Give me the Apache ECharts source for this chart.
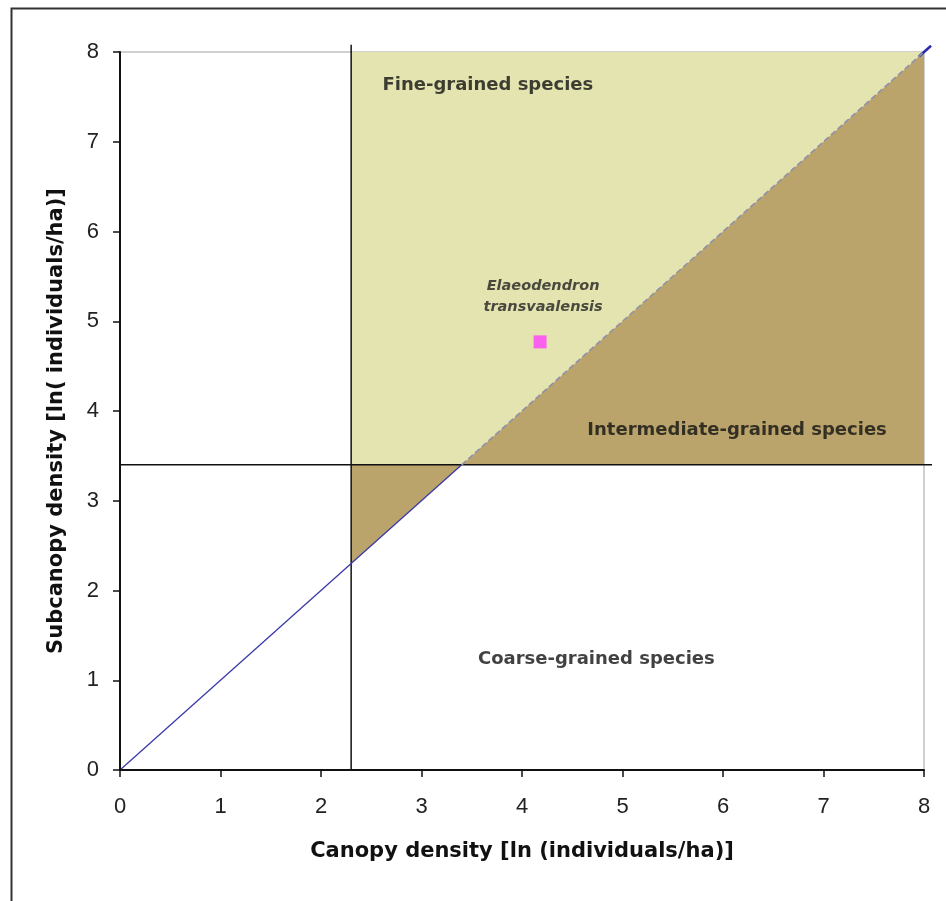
<!DOCTYPE html>
<html><head><meta charset="utf-8">
<script src="https://cdn.jsdelivr.net/npm/echarts@6/dist/echarts.min.js"></script>
<style>html,body{margin:0;padding:0;background:#fff}#c{width:946px;height:901px}</style>
</head><body><div id="c"></div>
<script>
var xTicks = [0,1,2,3,4,5,6,7,8];
var yTicks = [0,1,2,3,4,5,6,7,8];
var fineRegion = [[2.3,3.4],[2.3,8],[8,8],[3.4,3.4]];
var interRegionLow = [[2.3,2.3],[2.3,3.4],[3.4,3.4]];
var interRegionHigh = [[3.4,3.4],[8,8],[8,3.4]];
var diagonalSolid = [[0,0],[3.4,3.4]];
var diagonalDashed = [[3.4,3.4],[8,8]];
var diagonalTip = [[7.95,7.95],[8.07,8.07]];
var hLine = [[0,3.4],[8.08,3.4]];
var vLine = [[2.3,0],[2.3,8.08]];
var species = [[4.18,4.77]];
var regionLabels = [
  {name:'Fine-grained species', value:[3.66,7.63]},
  {name:'Intermediate-grained species', value:[6.14,3.79]},
  {name:'Coarse-grained species', value:[4.74,1.23]}
];
var speciesLabel = [{name:'Elaeodendron\ntransvaalensis', value:[4.21,5.27]}];

function poly(data, color){
  return {
    type:'custom', silent:true, z:1,
    renderItem:function(params, api){
      var pts = data.map(function(p){return api.coord(p);});
      return {type:'polygon', shape:{points:pts}, style:{fill:color, stroke:null}};
    },
    data:[0]
  };
}
function seg(data, z, style){
  return {
    type:'custom', silent:true, z:z, clip:false,
    renderItem:function(params, api){
      var a = api.coord(data[0]), b = api.coord(data[1]);
      return {type:'line', shape:{x1:a[0],y1:a[1],x2:b[0],y2:b[1]}, style:style};
    },
    data:[0]
  };
}

var chart = echarts.init(document.getElementById('c'));
chart.setOption({
  animation:false,
  backgroundColor:'#fff',
  grid:{left:120, right:22, top:52, bottom:131, show:true, borderColor:'#a0a0a0', borderWidth:1, backgroundColor:'transparent'},
  graphic:[{type:'rect', left:9, top:6, shape:{x:0,y:0,width:960,height:920}, style:{fill:null, stroke:'#333', lineWidth:2}, z:100}],
  xAxis:{
    type:'value', min:0, max:8, interval:1,
    name:'Canopy density [ln (individuals/ha)]', nameLocation:'middle', nameGap:71,
    nameTextStyle:{fontFamily:'DejaVu Sans', fontWeight:'bold', fontSize:21, color:'#111'},
    axisLine:{show:true, onZero:false, lineStyle:{color:'#111', width:2}},
    axisTick:{show:true, length:7, lineStyle:{color:'#111', width:1.5}},
    axisLabel:{margin:26, fontFamily:'Liberation Sans', fontSize:22, color:'#222', formatter:function(v){return xTicks.indexOf(v)>=0?String(v):'';}},
    splitLine:{show:false}, z:5
  },
  yAxis:{
    type:'value', min:0, max:8, interval:1,
    name:'Subcanopy density [ln( individuals/ha)]', nameLocation:'middle', nameGap:53,
    nameTextStyle:{fontFamily:'DejaVu Sans', fontWeight:'bold', fontSize:21, color:'#111', padding:[0,20,0,0]},
    axisLine:{show:true, onZero:false, lineStyle:{color:'#111', width:2}},
    axisTick:{show:true, length:7, lineStyle:{color:'#111', width:1.5}},
    axisLabel:{margin:21, fontFamily:'Liberation Sans', fontSize:22, color:'#222', formatter:function(v){return yTicks.indexOf(v)>=0?String(v):'';}},
    splitLine:{show:false}, z:5
  },
  series:[
    poly(fineRegion, '#e3e4b0'),
    poly(interRegionLow, '#baa46c'),
    poly(interRegionHigh, '#baa46c'),
    seg(hLine, 3, {stroke:'#111', lineWidth:1.5}),
    seg(vLine, 3, {stroke:'#111', lineWidth:1.5}),
    {type:'line', data:diagonalSolid, symbol:'none', silent:true, z:4, lineStyle:{color:'#3a3aa8', width:1.3}},
    {type:'line', data:diagonalDashed, symbol:'none', silent:true, z:4, lineStyle:{color:'#9090aa', width:1.6, type:[6,3]}},
    seg(diagonalTip, 4, {stroke:'#2a2ab0', lineWidth:2.5}),
    {type:'scatter', data:species, symbol:'rect', symbolSize:13, silent:true, z:6, itemStyle:{color:'#ff40ff'}},
    {type:'scatter', data:regionLabels, symbolSize:0, silent:true, z:7,
      label:{show:true, position:'inside', formatter:'{b}', fontFamily:'DejaVu Sans', fontWeight:'bold', fontSize:18, color:'#111'}},
    {type:'scatter', data:speciesLabel, symbolSize:0, silent:true, z:7,
      label:{show:true, position:'inside', formatter:'{b}', fontFamily:'DejaVu Sans', fontWeight:'bold', fontStyle:'italic', fontSize:14.5, lineHeight:21, color:'#222'}}
  ]
});
</script></body></html>
